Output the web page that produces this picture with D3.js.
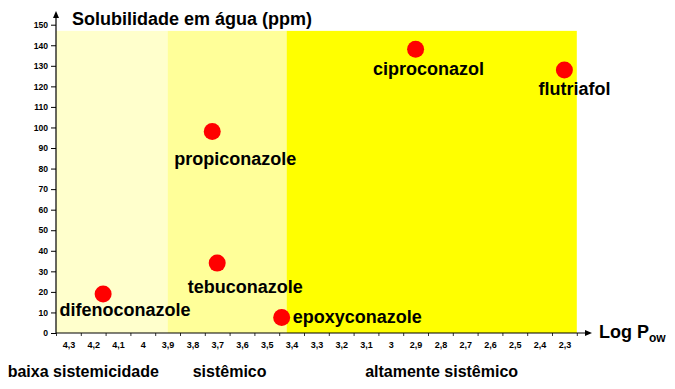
<html>
<head>
<meta charset="utf-8">
<script src="https://d3js.org/d3.v7.min.js"></script>
<style>
  body { margin: 0; background: #fff; }
  text { font-family: "Liberation Sans", Arial, sans-serif; font-weight: bold; }
</style>
</head>
<body>
<div id="viz"></div>
<script>
// data
var compounds  = ["difenoconazole", "tebuconazole", "epoxyconazole", "propiconazole", "ciproconazol", "flutriafol"];
var logPow     = [4.16, 3.70, 3.44, 3.72, 2.90, 2.30];
var solubility = [19, 34, 7.5, 98, 138, 128];

var xTicks = [4.3, 4.2, 4.1, 4.0, 3.9, 3.8, 3.7, 3.6, 3.5, 3.4, 3.3, 3.2, 3.1, 3.0, 2.9, 2.8, 2.7, 2.6, 2.5, 2.4, 2.3];
var yTicks = [0, 10, 20, 30, 40, 50, 60, 70, 80, 90, 100, 110, 120, 130, 140, 150];

var classes    = ["baixa sistemicidade", "sistêmico", "altamente sistêmico"];
var classEdges = [4.35, 3.9, 3.42, 2.25];

var W = 675, H = 389;
var svg = d3.select("#viz").append("svg").attr("width", W).attr("height", H);

var x = d3.scaleLinear().domain([4.35, 2.25]).range([56, 576.8]);
var y = d3.scaleLinear().domain([0, 150]).range([333, 24.7]);
var yTop = 147;

var ptBR = d3.formatLocale({decimal: ",", thousands: ".", grouping: [3], currency: ["R$", ""]});
var fmt = ptBR.format("~g");

// shaded bands
var bandColors = ["#FFFFCC", "#FFFF99", "#FFFF00"];
svg.selectAll("rect.band")
  .data(classes)
  .enter().append("rect")
  .attr("class", "band")
  .attr("x", function(d, i) { return x(classEdges[i]); })
  .attr("width", function(d, i) { return x(classEdges[i + 1]) - x(classEdges[i]); })
  .attr("y", y(yTop))
  .attr("height", y(0) - y(yTop))
  .style("fill", function(d, i) { return bandColors[i]; });

// y axis
var yAxis = svg.append("g")
  .attr("transform", "translate(" + x(4.35) + ",0)")
  .call(d3.axisLeft(y).tickValues(yTicks).tickSize(5).tickPadding(3));
yAxis.select(".domain").remove();
yAxis.selectAll("text").style("font-size", "8.6px").style("font-weight", "bold").attr("fill", "#000");
yAxis.selectAll("line").attr("stroke", "#000");

// x axis: labels between tick marks
var xLab = svg.append("g")
  .attr("transform", "translate(0," + y(0) + ")")
  .call(d3.axisBottom(x).tickValues(xTicks).tickSize(0).tickPadding(9).tickFormat(fmt));
xLab.select(".domain").remove();
xLab.selectAll("text").style("font-size", "9px").style("font-weight", "bold").attr("fill", "#000");

var bounds = xTicks.map(function(d) { return d + 0.05; }).concat([2.25]);
var xMarks = svg.append("g")
  .attr("transform", "translate(0," + y(0) + ")")
  .call(d3.axisBottom(x).tickValues(bounds).tickSize(3).tickFormat(""));
xMarks.select(".domain").remove();
xMarks.selectAll("line").attr("stroke", "#333");

// axis lines with arrows
svg.append("line")
  .attr("x1", x(4.35)).attr("y1", y(0)).attr("x2", x(4.35)).attr("y2", 15)
  .style("stroke", "#000").style("stroke-width", 1.2);
svg.append("path")
  .attr("d", "M" + x(4.35) + ",11 l-3,7 l6,0 z")
  .style("fill", "#000");

svg.append("line")
  .attr("x1", x(4.35)).attr("y1", y(0)).attr("x2", 588).attr("y2", y(0))
  .style("stroke", "#000").style("stroke-width", 1.2);
svg.append("path")
  .attr("d", "M592," + y(0) + " l-7,-3 l0,6 z")
  .style("fill", "#000");

// points
var pts = compounds.map(function(c, i) { return {name: c, lp: logPow[i], s: solubility[i]}; });

svg.selectAll("circle.pt")
  .data(pts)
  .enter().append("circle")
  .attr("class", "pt")
  .attr("cx", function(d) { return x(d.lp); })
  .attr("cy", function(d) { return y(d.s); })
  .attr("r", 8.5)
  .style("fill", "#FF0000");

// label placement: [dx, dy, anchor]
var place = {
  "difenoconazole": [22, 22, "middle"],
  "tebuconazole":   [28, 30, "middle"],
  "epoxyconazole":  [11, 5, "start"],
  "propiconazole":  [23, 33, "middle"],
  "ciproconazol":   [13, 26, "middle"],
  "flutriafol":     [10, 25, "middle"]
};

svg.selectAll("text.lbl")
  .data(pts)
  .enter().append("text")
  .attr("class", "lbl")
  .attr("x", function(d) { return x(d.lp) + place[d.name][0]; })
  .attr("y", function(d) { return y(d.s) + place[d.name][1]; })
  .attr("text-anchor", function(d) { return place[d.name][2]; })
  .style("font-size", "18px")
  .text(function(d) { return d.name; });

// titles
svg.append("text")
  .attr("x", 72).attr("y", 25)
  .style("font-size", "18px")
  .text("Solubilidade em água (ppm)");

var xt = svg.append("text")
  .attr("x", 599).attr("y", 338)
  .style("font-size", "18px");
xt.append("tspan").text("Log P");
xt.append("tspan").attr("dy", 4).style("font-size", "12px").text("ow");

// class captions
var captionX = [4.24, 3.65, 2.795];
svg.selectAll("text.cls")
  .data(classes)
  .enter().append("text")
  .attr("class", "cls")
  .attr("x", function(d, i) { return x(captionX[i]); })
  .attr("y", 377)
  .attr("text-anchor", "middle")
  .style("font-size", "16px")
  .text(function(d) { return d; });
</script>
</body>
</html>
